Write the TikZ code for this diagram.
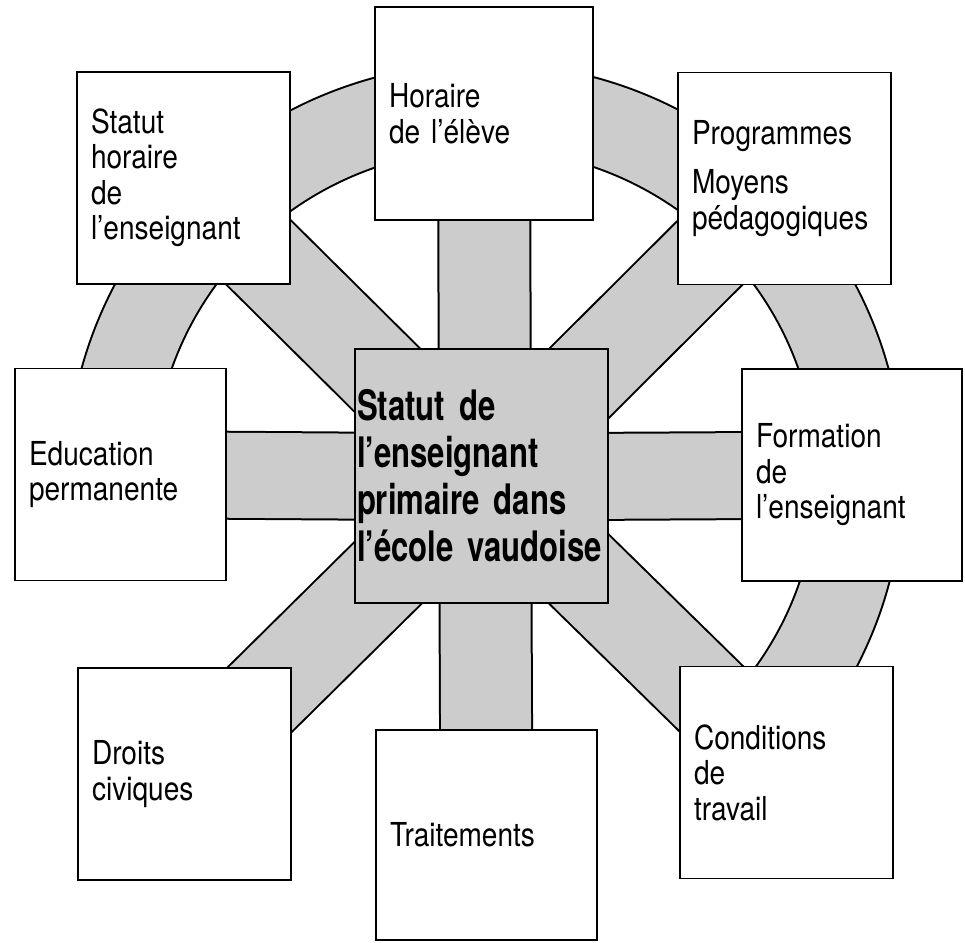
\documentclass[tikz,border=0pt]{standalone}
\usepackage{fontspec}
\usetikzlibrary{backgrounds}
\newfontfamily\boxfont{TeX Gyre Heros}[FakeStretch=0.85]
\newfontfamily\hubfont{TeX Gyre Heros}[FakeStretch=0.74, WordSpace=0.6]
\colorlet{raster}{black!20}
\tikzset{
  theme/.style={rectangle, draw, line width=1.6pt, fill=white,
    inner xsep=14pt, inner ysep=0pt, minimum width=#1, text width=#1-28pt,
    minimum height=212pt, align=left,
    font=\boxfont\fontsize{33}{35.5}\selectfont},
  theme/.default=213pt,
  band/.style={line width=2pt, double=raster, double distance=#1},
  band/.default=88pt
}
\begin{document}
\begin{tikzpicture}[x=1pt,y=-1pt]
  \useasboundingbox (0,0) rectangle (965,942);
  \coordinate (axis) at (485,477);

  \node[rectangle, draw, line width=1.6pt, fill=raster,
        minimum width=253pt, minimum height=254pt,
        inner xsep=2pt, text width=249pt, align=left,
        font=\hubfont\bfseries\fontsize{42}{47}\selectfont]
        (hub) at (481.5,476) {Statut de\\l’enseignant\\primaire dans\\l’école vaudoise};

  \node[theme] (statut) at (183.5,178) {Statut\\horaire\\de\\l’enseignant};
  \node[theme=218pt, minimum height=213pt] (eleve) at (484,113.5) {Horaire\\de l’élève};
  \node[theme] (programmes) at (784.5,178.5) {Programmes\\[14pt]Moyens\\pédagogiques};
  \node[theme=211pt] (education) at (120.5,474.5) {Education\\permanente};
  \node[theme=220pt] (formation) at (852,475) {Formation\\de\\l’enseignant};
  \node[theme] (droits) at (184.5,774) {Droits\\civiques};
  \node[theme=221pt, minimum height=210pt] (traitements) at (486.5,835) {Traitements};
  \node[theme] (conditions) at (786.5,772.5) {Conditions\\de\\travail};

  \begin{scope}[on background layer]
    \draw[band=84pt] (axis) ++(40:375 and 371)
      arc[start angle=40, end angle=-190, x radius=375, y radius=371];
    \foreach \n/\w in {eleve/90pt, traitements/90pt, education/85pt, formation/85pt,
                       statut/89pt, programmes/89pt, droits/89pt, conditions/89pt}{
      \draw[band=\w] (axis) -- (\n.center);
    }
  \end{scope}
\end{tikzpicture}
\end{document}
